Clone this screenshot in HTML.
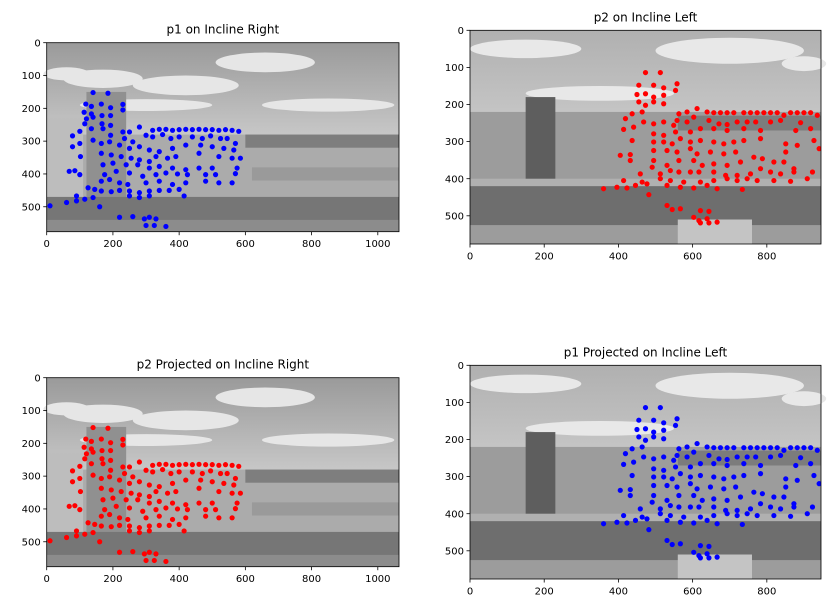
<!DOCTYPE html>
<html><head><meta charset="utf-8"><style>
body{margin:0;background:#fff;}
svg{display:block;font-family:"DejaVu Sans","Liberation Sans",sans-serif;}
</style></head><body>
<svg id="chart" width="831" height="614" viewBox="0 0 831 614">
<defs>
<linearGradient id="skyL" x1="0" y1="0" x2="0" y2="1"><stop offset="0" stop-color="#9a9a9a"/><stop offset="0.5" stop-color="#c8c8c8"/><stop offset="1" stop-color="#d8d8d8"/></linearGradient>
<linearGradient id="skyR" x1="0" y1="0" x2="0" y2="1"><stop offset="0" stop-color="#b0b0b0"/><stop offset="0.6" stop-color="#d0d0d0"/><stop offset="1" stop-color="#c0c0c0"/></linearGradient>
</defs>
</svg>
<script>
// p1 on Incline Right (image coords)
const p1X=[140,185,118,135,165,230,193,230,113,135,120,140,167,193,115,167,193,135,100,78,170,193,230,250,280,235,260,300,320,340,360,380,400,420,440,460,480,500,520,540,560,580,320,350,375,400,440,470,495,525,545,570,100,140,165,190,220,250,280,310,340,380,420,465,500,535,565,78,165,195,225,255,280,310,330,365,390,460,520,560,585,102,170,200,240,275,310,340,380,420,460,500,575,68,85,100,175,210,250,290,330,360,395,425,480,510,570,165,190,220,245,300,340,380,420,480,520,560,125,145,165,195,220,250,280,310,340,370,400,90,115,140,250,280,310,415,10,60,90,160,220,260,295,310,330,300,325,360];
const p1Y=[152,154,187,194,187,188,198,205,212,217,232,227,222,222,247,247,252,262,270,284,262,282,272,272,257,292,302,282,267,264,264,267,265,264,265,264,265,265,267,265,267,270,287,280,292,287,287,292,284,292,292,307,307,297,307,302,312,322,317,327,332,322,312,312,317,322,327,317,337,342,347,352,357,362,347,352,347,337,347,352,352,347,372,367,372,372,382,377,382,387,382,382,382,392,390,402,402,392,397,407,402,397,400,402,402,402,399,422,417,427,432,427,422,432,427,422,427,427,442,447,452,454,450,452,457,452,450,450,447,467,477,472,467,472,467,467,497,487,482,500,532,530,537,532,537,557,557,560];
// p2 on Incline Left (image coords)
const p2X=[473,513,455,495,522,558,554,450,473,495,522,455,473,495,522,437,464,419,468,495,522,549,414,441,563,585,612,558,585,603,639,657,675,693,711,738,756,774,792,810,828,846,864,882,900,918,936,644,671,693,720,747,770,810,837,891,495,522,554,594,621,657,693,738,783,878,918,437,495,522,545,567,594,621,657,684,711,738,783,851,882,927,941,405,432,495,531,558,594,612,648,684,716,765,788,851,432,495,531,563,603,626,657,693,729,783,819,846,873,923,459,491,513,540,563,594,617,657,689,720,756,810,837,873,464,513,540,576,621,657,693,720,747,774,819,864,909,414,446,477,531,567,603,639,666,734,360,396,423,482,531,545,567,621,644,603,617,639,666,621,644];
const p2Y=[114,114,148,148,155,144,162,173,171,180,175,193,202,193,198,225,220,238,247,252,247,256,267,261,225,220,211,243,247,234,220,222,222,222,222,222,222,222,222,222,222,229,222,222,222,222,229,243,252,254,247,247,247,247,243,249,279,283,274,274,265,265,270,265,270,270,265,297,301,301,306,292,301,297,301,306,301,297,292,306,310,297,319,337,335,324,324,328,319,333,328,333,328,342,346,328,351,351,364,351,351,364,360,364,355,373,355,355,373,382,387,369,387,378,382,382,382,382,391,391,387,382,387,382,409,400,405,409,409,405,400,405,400,405,405,407,400,405,418,414,418,423,425,418,427,429,427,423,425,443,472,483,481,486,488,504,513,508,517,519,519];
// Projected points (visually coincide with the upper panels)
const p2ProjX=p1X, p2ProjY=p1Y;
const p1ProjX=p2X, p1ProjY=p2Y;
const xTicksL=[0,200,400,600,800,1000];
const xTicksR=[0,200,400,600,800];
const yTicks=[0,100,200,300,400,500];

const NS="http://www.w3.org/2000/svg";
const svg=document.getElementById('chart');
function mk(tag,attrs,parent){const e=document.createElementNS(NS,tag);for(const k in attrs)e.setAttribute(k,attrs[k]);(parent||svg).appendChild(e);return e;}

const panels=[
 {id:'tl',title:'p1 on Incline Right',left:46.7,top:42.7,w:352.3,h:189,xmax:1064,ymax:576,bg:'L',xs:p1X,ys:p1Y,color:'#0000ff',xt:xTicksL},
 {id:'tr',title:'p2 on Incline Left',left:470,top:30.3,w:351,h:213.7,xmax:946,ymax:576,bg:'R',xs:p2X,ys:p2Y,color:'#ff0000',xt:xTicksR},
 {id:'bl',title:'p2 Projected on Incline Right',left:46.7,top:377.7,w:352.3,h:189,xmax:1064,ymax:576,bg:'L',xs:p2ProjX,ys:p2ProjY,color:'#ff0000',xt:xTicksL},
 {id:'br',title:'p1 Projected on Incline Left',left:470,top:365.3,w:351,h:213.7,xmax:946,ymax:576,bg:'R',xs:p1ProjX,ys:p1ProjY,color:'#0000ff',xt:xTicksR}
];

function drawBg(g,type){
 if(type==='L'){
  mk('rect',{x:0,y:0,width:1064,height:576,fill:'url(#skyL)'},g);
  [[170,110,120,28],[420,130,160,30],[660,60,150,30],[60,95,70,20],[850,190,200,20],[300,190,200,18]].forEach(c=>mk('ellipse',{cx:c[0],cy:c[1],rx:c[2],ry:c[3],fill:'#e6e6e6'},g));
  mk('rect',{x:0,y:280,width:1064,height:200,fill:'#ababab'},g);
  mk('rect',{x:0,y:230,width:110,height:250,fill:'#bdbdbd'},g);
  mk('rect',{x:120,y:150,width:120,height:330,fill:'#909090'},g);
  mk('rect',{x:600,y:280,width:464,height:40,fill:'#7e7e7e'},g);
  mk('rect',{x:0,y:470,width:1064,height:106,fill:'#767676'},g);
  mk('rect',{x:620,y:380,width:444,height:40,fill:'#9a9a9a'},g);
  mk('rect',{x:0,y:540,width:1064,height:36,fill:'#8c8c8c'},g);
 } else {
  mk('rect',{x:0,y:0,width:946,height:576,fill:'url(#skyR)'},g);
  [[150,50,150,25],[700,55,200,35],[900,90,60,20],[350,170,200,20]].forEach(c=>mk('ellipse',{cx:c[0],cy:c[1],rx:c[2],ry:c[3],fill:'#e8e8e8'},g));
  mk('rect',{x:0,y:220,width:946,height:190,fill:'#9c9c9c'},g);
  mk('rect',{x:150,y:180,width:80,height:230,fill:'#5e5e5e'},g);
  mk('rect',{x:560,y:230,width:386,height:40,fill:'#7c7c7c'},g);
  mk('rect',{x:0,y:400,width:946,height:20,fill:'#b0b0b0'},g);
  mk('rect',{x:0,y:420,width:946,height:110,fill:'#6e6e6e'},g);
  mk('rect',{x:0,y:525,width:946,height:51,fill:'#9c9c9c'},g);
  mk('rect',{x:560,y:510,width:200,height:66,fill:'#c4c4c4'},g);
 }
}

panels.forEach(p=>{
 const sx=v=>p.left+v/p.xmax*p.w;
 const sy=v=>p.top+v/p.ymax*p.h;
 const grp=mk('g',{});
 
 
 const cp=mk('clipPath',{id:'clip-'+p.id});
 mk('rect',{x:p.left,y:p.top,width:p.w,height:p.h},cp);
 const img=mk('g',{transform:`translate(${p.left},${p.top}) scale(${p.w/p.xmax},${p.h/p.ymax})`},grp);
 
 
 drawBg(img,p.bg);
 const pts=mk('g',{'clip-path':`url(#clip-${p.id})`},grp);
 
 
 for(let i=0;i<p.xs.length;i++){
  const c=mk('circle',{cx:sx(p.xs[i]),cy:sy(p.ys[i]),r:2.6,fill:p.color},pts);
  
  
 }
 const fr=mk('rect',{x:p.left,y:p.top,width:p.w,height:p.h,fill:'none',stroke:'#000','stroke-width':0.8},grp);
 
 
 p.xt.forEach(t=>{
  const x=sx(t);
  mk('line',{x1:x,x2:x,y1:p.top+p.h,y2:p.top+p.h+3.5,stroke:'#000','stroke-width':0.8},grp);
  const tx=mk('text',{x:x,y:p.top+p.h+15.5,'text-anchor':'middle','font-size':10,fill:'#000'},grp);
  tx.textContent=t;
  
  
 });
 yTicks.forEach(t=>{
  const y=sy(t);
  mk('line',{x1:p.left-3.5,x2:p.left,y1:y,y2:y,stroke:'#000','stroke-width':0.8},grp);
  const tx=mk('text',{x:p.left-6,y:y+3.6,'text-anchor':'end','font-size':10,fill:'#000'},grp);
  tx.textContent=t;
  
  
 });
 const ti=mk('text',{x:p.left+p.w/2,y:p.top-9,'text-anchor':'middle','font-size':12,fill:'#000'},grp);
 ti.textContent=p.title;
 
 
});
</script>
</body></html>
